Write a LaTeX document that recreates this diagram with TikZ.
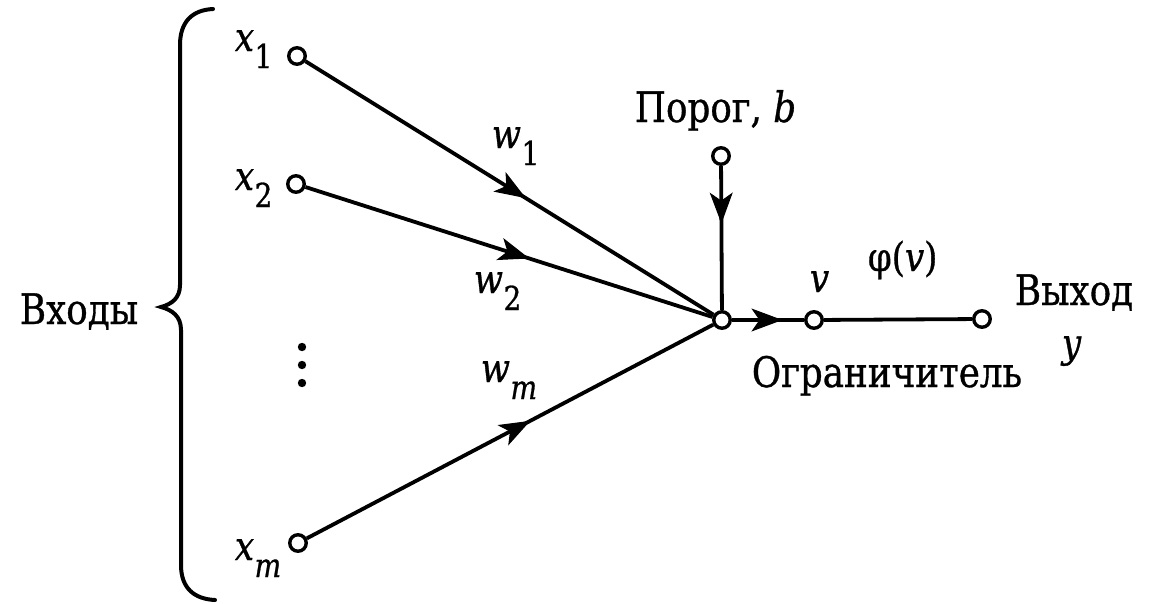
\documentclass[tikz,border=0pt]{standalone}
\usepackage{fontspec}
\setmainfont{DejaVu Serif}[FakeStretch=0.85,FakeBold=0.8]
\usetikzlibrary{arrows.meta,decorations.markings}
\newcommand\vs[2]{{\itshape #1}\kern0.5pt\raisebox{-17pt}{\fontsize{33}{33}\selectfont #2}}
\begin{document}
\begin{tikzpicture}[x=1pt,y=-1pt,
  line width=3.8pt,
  port/.style={circle,draw,fill=white,inner sep=0pt,minimum size=16.5pt,line width=3.4pt},
  lbl/.style={inner sep=0pt,anchor=base west,font=\fontsize{42}{46}\selectfont},
  vlbl/.style={inner sep=0pt,anchor=base west,font=\fontsize{40}{44}\selectfont},
  tipmark/.style={postaction={decorate},decoration={markings,mark=at position #1 with {\arrow[line width=1pt]{Stealth[length=31pt,width=23pt,inset=8pt]}}}},
]
\useasboundingbox (0,0) rectangle (1162,603);
\fill[white] (0,0) rectangle (1162,603);
% brace
\draw[line width=4pt,line cap=round] (213,9) .. controls (192,10) and (180,22) .. (180,45) -- (180,285) .. controls (180,298) and (172,304) .. (161,307) .. controls (172,310) and (181,316) .. (181,330) -- (181,565) .. controls (181,588) and (194,599) .. (215,600);
% dots
\fill (302,347) circle (4.2);
\fill (302,365) circle (4.2);
\fill (302,383) circle (4.2);
% ports
\node[port] (x1) at (297,56) {};
\node[port] (x2) at (296,184) {};
\node[port] (xm) at (298,543) {};
\node[port] (s) at (722,320) {};
\node[port] (b) at (721,156) {};
\node[port] (v) at (814,320) {};
\node[port] (y) at (982,319) {};
% connectors
\draw[tipmark=0.54] (x1) -- (s);
\draw[tipmark=0.55] (x2) -- (s);
\draw[tipmark=0.55] (xm) -- (s);
\draw[tipmark=0.40] (b) -- (s);
\draw[tipmark=0.70] (s) -- (v);
\draw (v) -- (y);
% labels
\node[lbl] (inp) at (18,324) {Входы};
\node[vlbl] (lx1) at (233,51) {\vs{x}{1}};
\node[vlbl] (lx2) at (233,190) {\vs{x}{2}};
\node[vlbl] (lxm) at (233,560) {\vs{x}{\itshape m}};
\node[vlbl] (lw1) at (490,148) {\vs{w}{1}};
\node[vlbl] (lw2) at (472,293) {\vs{w}{2}};
\node[vlbl] (lwm) at (479,382) {\vs{w}{\itshape m}};
\node[lbl] (lb) at (633,122) {Порог, \textit{b}};
\node[vlbl] (lv) at (808,292) {\textit{v}};
\node[vlbl] (lphi) at (866,271) {φ(\textit{v})};
\node[lbl] (lout) at (1013,305) {Выход};
\node[vlbl] (ly) at (1060,357) {\textit{y}};
\node[lbl] (llim) at (750,387) {Ограничитель};
\end{tikzpicture}
\end{document}
